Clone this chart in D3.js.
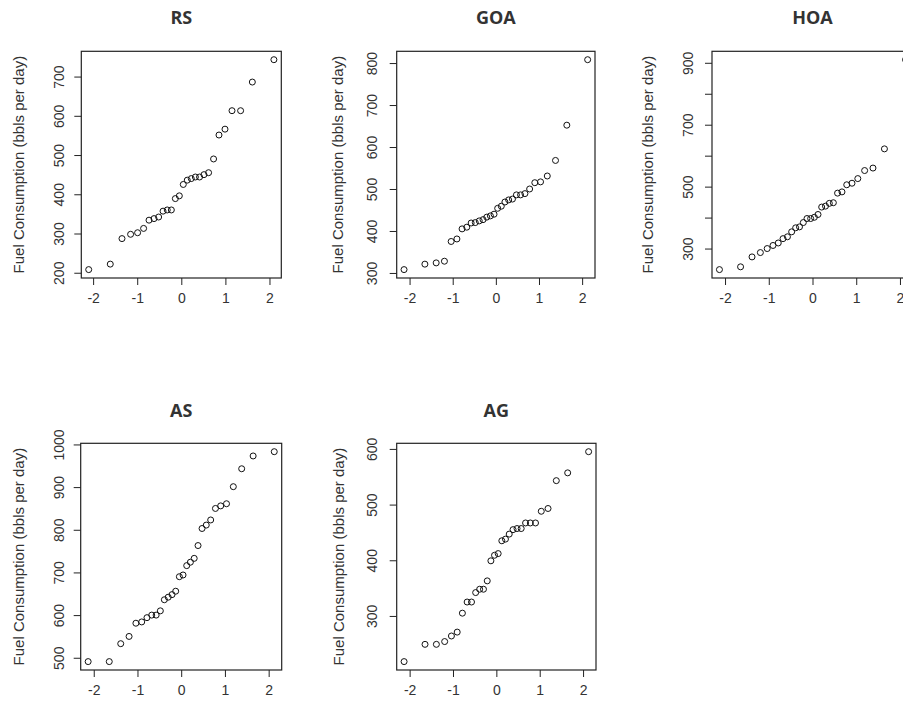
<!DOCTYPE html>
<html>
<head>
<meta charset="utf-8">
<script src="https://cdnjs.cloudflare.com/ajax/libs/d3/7.8.5/d3.min.js"></script>
<style>
  html, body { margin: 0; padding: 0; background: #fff; }
  svg { display: block; }
</style>
</head>
<body>
<svg id="chart" width="903" height="712"></svg>
<script>
// ---------- data ----------
const panelNames = ["RS", "GOA", "HOA", "AS", "AG"];

// theoretical normal quantiles (read from the x positions of the points)
const quantiles28 = [-2.100, -1.611, -1.345, -1.150, -0.991, -0.855, -0.732, -0.619, -0.514, -0.414,
  -0.319, -0.226, -0.135, -0.045, 0.045, 0.135, 0.226, 0.319, 0.414, 0.514,
  0.619, 0.732, 0.855, 0.991, 1.150, 1.345, 1.611, 2.100];
const quantiles30 = [-2.128, -1.645, -1.383, -1.192, -1.036, -0.903, -0.783, -0.674, -0.573, -0.477,
  -0.385, -0.297, -0.210, -0.126, -0.042, 0.042, 0.126, 0.210, 0.297, 0.385,
  0.477, 0.573, 0.674, 0.783, 0.903, 1.036, 1.192, 1.383, 1.645, 2.128];

const rsFuel = [208, 222, 287, 298, 302, 313, 334, 338, 342, 357, 360, 360, 389, 396,
  425, 436, 440, 444, 444, 450, 455, 490, 551, 566, 613, 613, 686, 743];
const goaFuel = [308, 321, 324, 328, 375, 381, 405, 409, 419, 420, 424, 427, 433, 436, 440,
  454, 459, 469, 474, 476, 486, 486, 489, 500, 515, 517, 531, 568, 652, 808];
const hoaFuel = [232, 241, 273, 287, 300, 310, 318, 332, 338, 354, 367, 370, 384, 397, 397,
  401, 410, 434, 437, 446, 448, 479, 483, 506, 511, 526, 552, 560, 622, 910];
const asFuel = [491, 491, 533, 550, 581, 584, 594, 600, 600, 610, 636, 642, 648, 656, 690,
  694, 716, 724, 733, 763, 803, 811, 823, 850, 856, 861, 901, 943, 973, 983];
const agFuel = [218, 249, 249, 254, 264, 271, 305, 325, 325, 342, 348, 348, 363, 399, 409,
  412, 435, 438, 447, 455, 457, 457, 467, 467, 467, 488, 493, 543, 557, 595];

const xTicks = [-2, -1, 0, 1, 2];
const rsYTicks = [200, 300, 400, 500, 600, 700];
const goaYTicks = [300, 400, 500, 600, 700, 800];
const hoaYTicks = [300, 400, 500, 600, 700, 800, 900];
const hoaYLabels = [300, 500, 700, 900];
const asYTicks = [500, 600, 700, 800, 900, 1000];
const agYTicks = [300, 400, 500, 600];

const yAxisTitle = "Fuel Consumption (bbls per day)";

// ---------- layout ----------
const panels = [
  { name: panelNames[0], q: quantiles28, v: rsFuel,  yTicks: rsYTicks,  yLabels: rsYTicks,
    box: { l: 81.3, r: 281.3, t: 51.3, b: 278 }, tickLabOff: 22, axisTitleX: 19, titleY: 24 },
  { name: panelNames[1], q: quantiles30, v: goaFuel, yTicks: goaYTicks, yLabels: goaYTicks,
    box: { l: 396.7, r: 595, t: 51.3, b: 278 }, tickLabOff: 25, axisTitleX: 338, titleY: 24 },
  { name: panelNames[2], q: quantiles30, v: hoaFuel, yTicks: hoaYTicks, yLabels: hoaYLabels,
    box: { l: 712, r: 913, t: 51.3, b: 278 }, tickLabOff: 24, axisTitleX: 648, titleY: 24 },
  { name: panelNames[3], q: quantiles30, v: asFuel,  yTicks: asYTicks,  yLabels: asYTicks,
    box: { l: 80.7, r: 281.7, t: 443.3, b: 670 }, tickLabOff: 22, axisTitleX: 19, titleY: 417 },
  { name: panelNames[4], q: quantiles30, v: agFuel,  yTicks: agYTicks,  yLabels: agYTicks,
    box: { l: 396.7, r: 596, t: 443.3, b: 670 }, tickLabOff: 25, axisTitleX: 339, titleY: 417 }
];

const svg = d3.select("#chart");
const ink = "#222";

function padded(ext) {
  const d = (ext[1] - ext[0]) * 0.04;
  return [ext[0] - d, ext[1] + d];
}

panels.forEach(p => {
  const b = p.box;
  const x = d3.scaleLinear().domain(padded(d3.extent(p.q))).range([b.l, b.r]);
  const y = d3.scaleLinear().domain(padded(d3.extent(p.v))).range([b.b, b.t]);
  const g = svg.append("g");

  // title
  g.append("text")
    .attr("x", x(0))
    .attr("y", p.titleY)
    .attr("text-anchor", "middle")
    .attr("font-family", "'Open Sans', sans-serif")
    .attr("font-weight", 700)
    .attr("font-size", 18)
    .attr("fill", "#333")
    .text(p.name);

  // x axis
  const xa = g.append("g")
    .attr("transform", `translate(0,${b.b})`)
    .call(d3.axisBottom(x).tickValues(xTicks).tickSize(7).tickPadding(8).tickFormat(d3.format("d")));
  xa.select(".domain").remove();
  xa.selectAll("line").attr("stroke", ink);
  xa.selectAll("text")
    .attr("font-family", "'Liberation Sans', Arial, sans-serif")
    .attr("font-size", 14)
    .attr("fill", "#333")
    .text(d => d < 0 ? "-" + Math.abs(d) : String(d));

  // y axis
  const ya = g.append("g")
    .attr("transform", `translate(${b.l},0)`)
    .call(d3.axisLeft(y).tickValues(p.yTicks).tickSize(7)
      .tickFormat(d => p.yLabels.includes(d) ? String(d) : ""));
  ya.select(".domain").remove();
  ya.selectAll("line").attr("stroke", ink);
  ya.selectAll("text")
    .attr("transform", "rotate(-90)")
    .attr("x", 0)
    .attr("y", -p.tickLabOff)
    .attr("dy", "0.35em")
    .attr("text-anchor", "middle")
    .attr("font-family", "'Liberation Sans', Arial, sans-serif")
    .attr("font-size", 14)
    .attr("fill", "#333");

  // y axis title
  g.append("text")
    .attr("transform", `translate(${p.axisTitleX},${(b.t + b.b) / 2}) rotate(-90)`)
    .attr("text-anchor", "middle")
    .attr("dy", "0.35em")
    .attr("font-family", "'Liberation Sans', Arial, sans-serif")
    .attr("font-size", 15)
    .attr("fill", "#333")
    .text(yAxisTitle);

  // box
  g.append("rect")
    .attr("x", b.l).attr("y", b.t)
    .attr("width", b.r - b.l).attr("height", b.b - b.t)
    .attr("fill", "none").attr("stroke", ink).attr("stroke-width", 1.2);

  // points
  g.selectAll("circle.pt")
    .data(p.v.map((v, i) => ({ q: p.q[i], v })))
    .join("circle")
    .attr("class", "pt")
    .attr("cx", d => x(d.q))
    .attr("cy", d => y(d.v))
    .attr("r", 3)
    .attr("fill", "none")
    .attr("stroke", "#111")
    .attr("stroke-width", 1);
});
</script>
</body>
</html>
